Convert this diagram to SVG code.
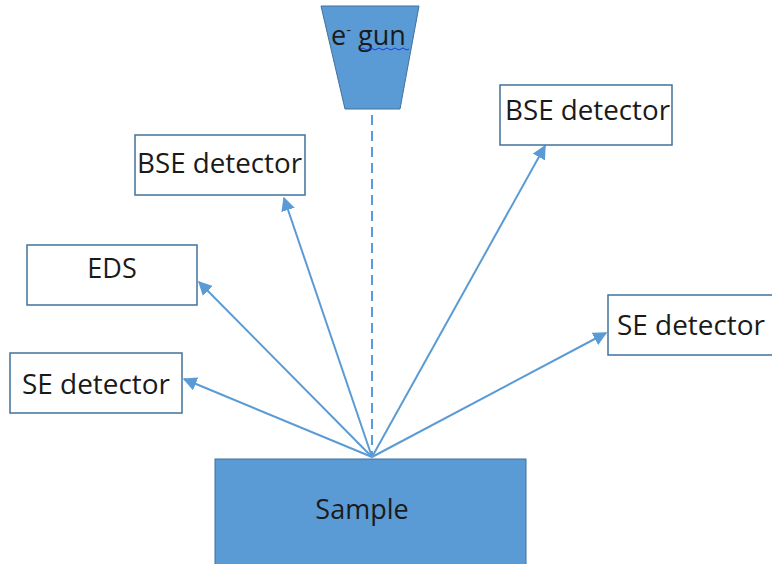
<svg xmlns="http://www.w3.org/2000/svg" width="772" height="564" viewBox="0 0 772 564">
<defs>
<style>
.box{fill:#ffffff;stroke:#41719C;stroke-width:1.5}
.shape{fill:#5B9BD5;stroke:#41719C;stroke-width:1}
.t{font-family:"Open Sans","Liberation Sans",sans-serif;font-size:27px;fill:#1a1a1a}
.c{stroke:#5B9BD5;stroke-width:2;fill:none}
</style>
<marker id="ah" viewBox="0 0 10 10" refX="9" refY="5" markerWidth="7" markerHeight="7" orient="auto" markerUnits="strokeWidth">
<path d="M0,0 L10,5 L0,10 z" fill="#5B9BD5"/>
</marker>
</defs>
<rect width="772" height="564" fill="#ffffff"/>
<g id="connectors">
<line class="c" x1="372" y1="115" x2="372" y2="457" stroke-dasharray="10,6"/>
<line class="c" x1="372" y1="457" x2="184" y2="379" marker-end="url(#ah)"/>
<line class="c" x1="372" y1="457" x2="199" y2="282" marker-end="url(#ah)"/>
<line class="c" x1="372" y1="457" x2="284" y2="198" marker-end="url(#ah)"/>
<line class="c" x1="372" y1="457" x2="545" y2="146" marker-end="url(#ah)"/>
<line class="c" x1="372" y1="457" x2="606" y2="333" marker-end="url(#ah)"/>
</g>
<g id="egun">
<polygon class="shape" points="321,6 419,6 400,109 345,109"/>
<text class="t" x="331" y="45" font-size="26">e<tspan font-size="15" dy="-10">-</tspan><tspan dy="10"> gun</tspan></text>
<path d="M361,49 q2,-2 4,0 t4,0 t4,0 t4,0 t4,0 t4,0 t4,0 t4,0 t4,0 t4,0 t4,0 t4,0" fill="none" stroke="#1e3fd8" stroke-width="1"/>
</g>
<g id="sample">
<rect class="shape" x="215" y="459" width="311" height="106"/>
<text class="t" x="362" y="519" text-anchor="middle">Sample</text>
</g>
<g id="bse-left">
<rect class="box" x="135" y="135" width="170" height="60"/>
<text class="t" x="137" y="173" textLength="165" lengthAdjust="spacingAndGlyphs">BSE detector</text>
</g>
<g id="eds">
<rect class="box" x="27" y="245" width="170" height="60"/>
<text class="t" x="112" y="278" text-anchor="middle">EDS</text>
</g>
<g id="se-left">
<rect class="box" x="10" y="353" width="172" height="60"/>
<text class="t" x="22" y="394" textLength="148" lengthAdjust="spacingAndGlyphs">SE detector</text>
</g>
<g id="bse-right">
<rect class="box" x="500" y="85" width="172" height="60"/>
<text class="t" x="505" y="120" textLength="165" lengthAdjust="spacingAndGlyphs">BSE detector</text>
</g>
<g id="se-right">
<rect class="box" x="608" y="295" width="172" height="60"/>
<text class="t" x="617" y="335" textLength="148" lengthAdjust="spacingAndGlyphs">SE detector</text>
</g>
</svg>
